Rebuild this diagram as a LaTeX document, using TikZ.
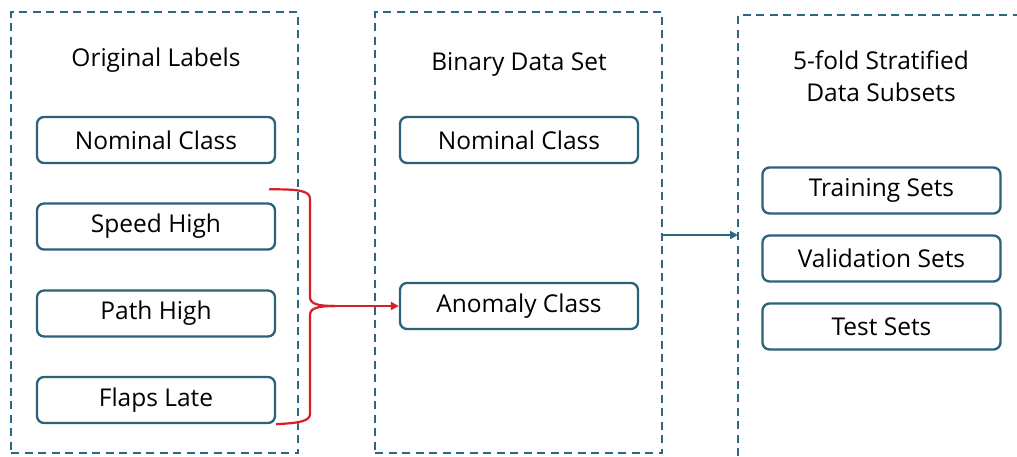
\documentclass[tikz,border=0pt]{standalone}
\usepackage{fontspec}
\setmainfont{Open Sans}
\usetikzlibrary{arrows.meta,calc}
\definecolor{frameblue}{HTML}{2C6880}
\definecolor{boxblue}{HTML}{2A6278}
\definecolor{flowred}{HTML}{D61F26}
\tikzset{
  panel/.style={draw=frameblue, line width=2.5pt, dash pattern=on 8pt off 5.5pt,
    minimum width=287pt, minimum height=441pt, inner sep=0pt},
  labelbox/.style={draw=boxblue, line width=2.3pt, rounded corners=7pt,
    minimum width=238pt, minimum height=46pt, inner sep=0pt,
    font=\fontsize{24.5}{28}\selectfont, text=black},
  title/.style={font=\fontsize{24.5}{32}\selectfont, align=center, text=black},
  redflow/.style={draw=flowred, line width=2.2pt},
}
\begin{document}
\begin{tikzpicture}[x=1pt,y=-1pt]
\useasboundingbox (0,0) rectangle (1017,456);
\fill[white] (0,0) rectangle (1017,456);

% three stage frames
\node[panel] (p1) at (154.5,232.5) {};
\node[panel] (p2) at (518.5,232.5) {};
\coordinate (p3bl) at (738,456);
\coordinate (p3tl) at (738,15);
\coordinate (p3tr) at (1017,15);
\draw[draw=frameblue, line width=2.5pt, dash pattern=on 8pt off 5.5pt]
  (p3bl) -- (p3tl) -- (p3tr);

% stage titles
\node[title] (t1) at (156,60) {Original Labels};
\node[title] (t2) at (519,64) {Binary Data Set};
\node[title] (t3) at (881,76) {5-fold Stratified\\Data Subsets};

% original labels
\node[labelbox] (nom1) at (156,140) {\raisebox{-1.5pt}{Nominal Class}};
\node[labelbox] (speed) at (156,226.5) {\raisebox{-1.5pt}{Speed High}};
\node[labelbox] (path) at (156,313.5) {\raisebox{-1.5pt}{Path High}};
\node[labelbox] (flaps) at (156,400) {\raisebox{-1.5pt}{Flaps Late}};

% binary classes
\node[labelbox] (nom2) at (519,140) {\raisebox{-1.5pt}{Nominal Class}};
\node[labelbox] (anom) at (519,306) {\raisebox{-1.5pt}{Anomaly Class}};

% data subsets
\node[labelbox] (train) at (881.5,190.5) {\raisebox{-1.5pt}{Training Sets}};
\node[labelbox] (valid) at (881.5,258.5) {\raisebox{-1.5pt}{Validation Sets}};
\node[labelbox] (test) at (881.5,326.5) {\raisebox{-1.5pt}{Test Sets}};

% anomaly labels merged into one class
\coordinate (brtop) at ($(speed.north east)+(-7,-13)$);
\coordinate (brbot) at (flaps.south east);
\coordinate (brtip) at (335,306);
\draw[redflow]
  (brtop) .. controls (300,189) and (310,191) .. (310,199)
  -- (310,297) .. controls (310,304) and (318,306) .. (brtip);
\draw[redflow]
  (brbot) .. controls (300,423) and (310,421) .. (310,414)
  -- (310,315) .. controls (310,308) and (318,306) .. (brtip);
\draw[redflow, -{Triangle[length=8pt,width=8pt]}] (brtip) -- (anom.west);

% binary set feeds the stratified split
\coordinate (splitA) at ($(p2.east)+(0,2.5)$);
\coordinate (splitB) at (738,235);
\draw[draw=frameblue, line width=2.2pt, -{Triangle[length=8pt,width=8pt]}]
  (splitA) -- (splitB);
\end{tikzpicture}
\end{document}
